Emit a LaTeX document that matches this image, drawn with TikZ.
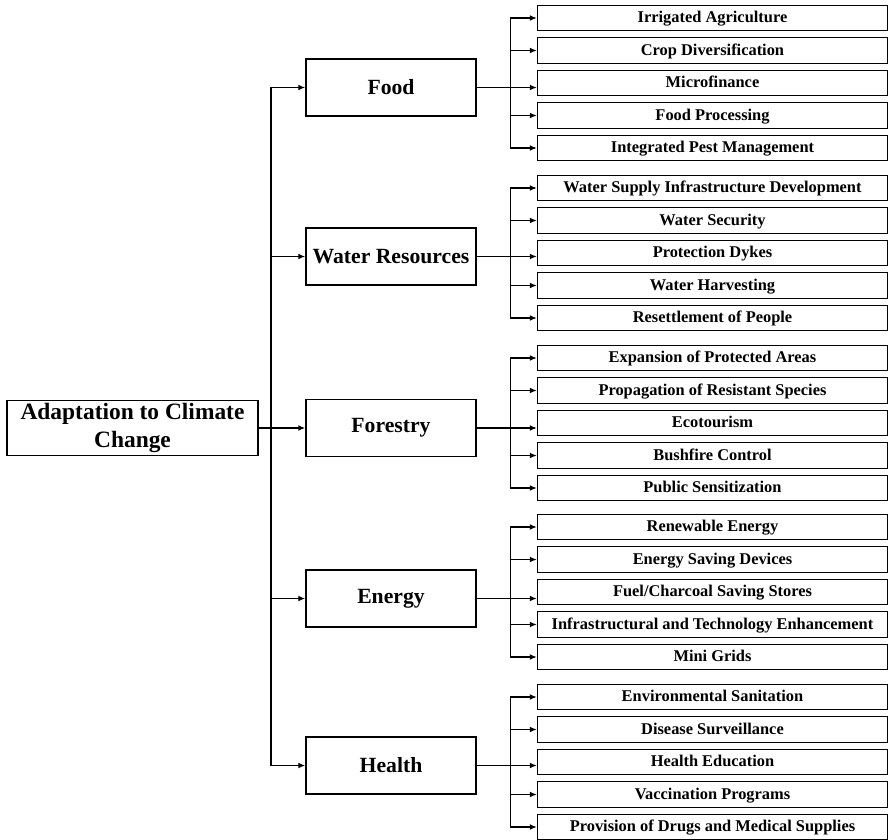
\documentclass[tikz,border=0pt]{standalone}
\usepackage{fontspec}
\setmainfont{Liberation Serif}
\usetikzlibrary{arrows.meta,calc}

\begin{document}
\begin{tikzpicture}[x=0.03cm,y=-0.03cm,
  leaf/.style={draw,line width=1pt,minimum width=10.5cm,minimum height=0.765cm,
    inner sep=0pt,text height=1em,text depth=0.16em,
    font=\fontsize{14}{16}\selectfont\bfseries},
  sector/.style={draw,line width=1.2pt,minimum width=5.1cm,minimum height=1.71cm,
    inner sep=0pt,font=\fontsize{18.5}{22}\selectfont\bfseries},
  arr/.style={line width=1.2pt,-{Latex[length=6pt,width=5pt]}}]
\useasboundingbox (0,0) rectangle (889,840);

\node[draw,line width=1.2pt,minimum width=7.53cm,minimum height=1.65cm,inner sep=0pt,
  align=center,font=\fontsize{20}{24}\selectfont\bfseries] (root) at (132.5,428)
  {Adaptation to Climate\\Change};

\node[sector] (F) at (391,87.5)  {Food};
\node[sector] (W) at (391,256.5) {Water Resources};
\node[sector] (R) at (391,428)   {Forestry};
\node[sector] (E) at (391,598.5) {Energy};
\node[sector] (H) at (391,765.5) {Health};

\node[leaf] (F1) at (712.5,18)   {Irrigated Agriculture};
\node[leaf] (F2) at (712.5,50.5) {Crop Diversification};
\node[leaf] (F3) at (712.5,83)   {Microfinance};
\node[leaf] (F4) at (712.5,115.5){Food Processing};
\node[leaf] (F5) at (712.5,148)  {Integrated Pest Management};

\node[leaf] (W1) at (712.5,188)  {Water Supply Infrastructure Development};
\node[leaf] (W2) at (712.5,220.5){Water Security};
\node[leaf] (W3) at (712.5,253)  {Protection Dykes};
\node[leaf] (W4) at (712.5,285.5){Water Harvesting};
\node[leaf] (W5) at (712.5,318)  {Resettlement of People};

\node[leaf] (R1) at (712.5,358)  {Expansion of Protected Areas};
\node[leaf] (R2) at (712.5,390.5){Propagation of Resistant Species};
\node[leaf] (R3) at (712.5,423)  {Ecotourism};
\node[leaf] (R4) at (712.5,455.5){Bushfire Control};
\node[leaf] (R5) at (712.5,488)  {Public Sensitization};

\node[leaf] (E1) at (712.5,527)  {Renewable Energy};
\node[leaf] (E2) at (712.5,559.5){Energy Saving Devices};
\node[leaf] (E3) at (712.5,592)  {Fuel/Charcoal Saving Stores};
\node[leaf] (E4) at (712.5,624.5){Infrastructural and Technology Enhancement};
\node[leaf] (E5) at (712.5,657)  {Mini Grids};

\node[leaf] (H1) at (712.5,697)  {Environmental Sanitation};
\node[leaf] (H2) at (712.5,729.5){Disease Surveillance};
\node[leaf] (H3) at (712.5,762)  {Health Education};
\node[leaf] (H4) at (712.5,794.5){Vaccination Programs};
\node[leaf] (H5) at (712.5,827)  {Provision of Drugs and Medical Supplies};

\coordinate (T) at (271,428);
\draw[arr] (root) -- (R);
\draw[arr] (T) |- (F.west);
\draw[arr] (T) |- (W.west);
\draw[arr] (T) |- (E.west);
\draw[arr] (T) |- (H.west);

\foreach \g in {F,W,R,E,H}{
  \coordinate (\g b) at ($(\g.east)+(34,0)$);
  \draw[arr] (\g.east) -- (\g.east -| \g3.west);
  \foreach \k in {1,2,4,5}
    \draw[arr] (\g b) |- (\g\k.west);
}
\end{tikzpicture}
\end{document}
